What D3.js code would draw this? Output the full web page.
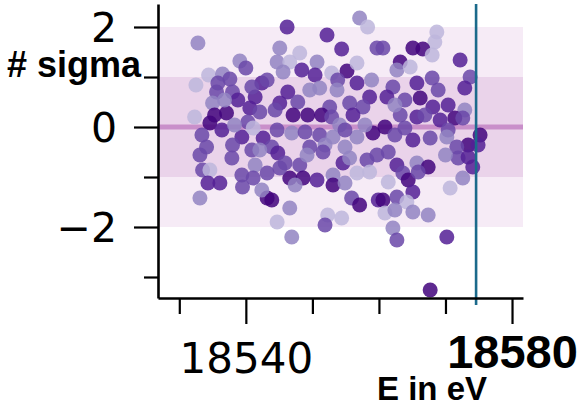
<!DOCTYPE html>
<html><head><meta charset="utf-8">
<script src="https://cdn.jsdelivr.net/npm/d3@7"></script>
<style>body{margin:0;background:#fff}svg{display:block}</style>
</head><body>
<svg id="c" width="581" height="407"></svg>
<script>
const energy = [18532.8,18539.1,18540.0,18534.4,18536.5,18537.6,18535.8,18532.5,18542.4,18535.6,18538.0,18541.4,18538.8,18535.0,18540.6,18542.1,18535.3,18537.1,18532.3,18534.6,18540.3,18536.4,18533.4,18539.4,18542.6,18534.1,18538.0,18533.1,18537.9,18533.5,18534.6,18541.4,18539.4,18541.1,18534.3,18536.1,18539.5,18533.1,18543.2,18543.2,18540.9,18541.1,18540.9,18543.2,18542.4,
18546.2,18557.1,18558.3,18552.2,18554.4,18559.7,18545.1,18548.1,18544.7,18546.6,18550.7,18548.4,18550.4,18545.6,18555.2,18552.9,18556.7,18553.8,18556.7,18551.1,18558.9,18546.3,18553.7,18547.8,18558.6,18545.1,18552.6,18555.6,18557.6,18544.4,18547.1,18549.3,18551.4,18552.9,18556.1,18554.1,18544.7,18546.9,18548.9,18551.1,18553.1,18556.7,18559.1,18543.9,18549.6,18551.9,18554.9,
18544.8,18545.9,18548.1,18549.2,18551.6,18554.6,18555.6,18558.2,18559.7,18546.6,18548.6,18550.7,18553.1,18547.4,18553.1,18554.9,18556.7,18558.6,18543.9,18546.6,18555.9,18557.1,18559.9,18544.7,18552.3,18554.4,18551.9,18546.9,18545.1,
18568.7,18568.4,18565.1,18566.6,18560.6,18563.2,18562.7,18564.7,18572.2,18568.0,18573.7,18568.0,18565.7,18562.1,18572.9,18568.9,18561.2,18566.2,18563.9,18568.1,18570.4,18572.9,18563.2,18565.7,18566.9,18569.2,18571.4,18572.6,18560.9,18563.9,18570.4,18562.4,18565.1,18567.7,18570.2,18573.4,18575.2,18574.9,18571.7,
18561.4,18571.9,18573.4,18574.1,18562.7,18565.7,18567.4,18563.6,18564.4,18565.9,18561.4,18572.6,18565.1,18560.6,18562.7,18564.2,18570.7,18560.9,18562.4,18565.1,18567.4,18562.1,18562.7,18570.2,18567.7,
18538.3,18549.6,18554.9,18557.9,18562.4,18570.0,18536.8,18542.1];
const sigma = [1.68,1.32,1.18,1.04,1.06,0.96,0.88,0.84,0.88,0.70,0.70,0.60,0.54,0.48,0.38,0.30,0.24,0.28,0.20,0.08,0.10,-0.06,-0.16,-0.20,-0.22,-0.40,-0.36,-0.56,-0.62,-0.86,-0.86,-0.76,-0.96,-1.02,-1.12,-1.12,-1.20,-1.42,-1.42,0.94,0.80,-0.02,-0.46,-0.92,-1.26,
2.00,2.18,2.00,1.84,1.56,1.58,1.58,1.48,1.30,1.30,1.30,1.14,1.04,1.10,1.12,1.08,1.28,0.94,0.88,0.78,0.94,0.70,0.74,0.50,0.60,0.48,0.40,0.48,0.40,0.34,0.24,0.24,0.24,0.20,0.24,0.04,-0.06,-0.12,-0.10,-0.16,-0.20,-0.20,-0.12,-0.40,-0.40,-0.36,-0.40,
-0.52,-0.72,-0.76,-0.56,-0.50,-0.72,-0.62,-0.66,-0.56,-1.02,-1.02,-1.06,-0.96,-1.16,-1.16,-1.12,-0.92,-0.90,-1.46,-1.62,-1.42,-1.56,-1.46,-1.90,-1.76,-1.82,-1.96,-2.20,-0.82,
1.90,1.70,1.58,1.56,1.58,1.30,1.14,1.20,1.34,1.44,1.00,0.98,0.88,0.80,0.78,0.74,0.60,0.58,0.54,0.40,0.44,0.34,0.24,0.20,0.24,0.14,0.18,0.18,0.00,-0.02,-0.06,-0.16,-0.26,-0.22,-0.20,-0.36,-0.16,-0.36,-0.40,
-0.50,-0.62,-0.60,-0.80,-0.76,-0.72,-0.80,-0.92,-1.06,-0.90,-1.10,-1.02,-1.30,-1.46,-1.40,-1.50,-1.22,-1.72,-1.66,-1.70,-1.76,-2.02,-2.26,-2.20,-3.26,
0.04,0.74,-0.06,0.04,0.44,-0.56,0.54,-0.46];
const shade = [1,1,2,0,1,2,2,0,3,2,2,3,3,1,3,2,4,4,0,4,2,3,2,3,3,2,2,2,2,2,0,1,2,2,3,3,2,1,4,2,2,0,2,2,1,
3,1,0,3,3,2,1,0,1,0,1,3,3,1,4,0,0,2,3,1,1,3,1,2,3,3,2,2,2,2,4,4,4,2,3,1,2,1,2,2,1,1,4,2,2,1,1,
3,2,2,1,2,3,1,2,2,4,4,3,1,1,4,1,0,0,4,1,2,4,3,0,0,0,2,1,2,
0,0,4,4,2,4,1,0,3,0,2,2,3,2,3,2,3,4,2,3,3,1,2,3,2,3,4,2,4,2,2,2,3,2,1,4,4,3,2,
2,2,3,3,3,1,4,2,4,2,0,1,3,4,2,0,0,0,1,1,1,1,2,3,4,
1,1,2,1,1,1,1,1];
const endpointE = 18574.6;
const bandLevels = [2, 1];
const yMajor = [-2, 0, 2], yMinor = [-3, -1, 1];
const xMajor = [18540, 18580], xMinor = [18530, 18550, 18560, 18570];
const yLabel = "# sigma", xLabel = "E in eV";

const svg = d3.select("#c");
const x = d3.scaleLinear().domain([18526.8, 18581.65]).range([158, 523]);
const y = d3.scaleLinear().domain([-3.42, 2.46]).range([298, 4]);
const colors = ["#bdb6dc", "#9284c2", "#6a48a8", "#532095", "#42047c"];

// bands
const bandCol = {2: "#f6ebf6", 1: "#ead3ea"};
bandLevels.forEach(b => {
  svg.append("rect").attr("x", x.range()[0]).attr("width", x.range()[1] - x.range()[0])
    .attr("y", y(b)).attr("height", y(-b) - y(b)).attr("fill", bandCol[b]);
});
svg.append("line").attr("x1", x.range()[0]).attr("x2", x.range()[1])
  .attr("y1", y(0)).attr("y2", y(0)).attr("stroke", "#c98fca").attr("stroke-width", 5);

// points
svg.append("g").selectAll("circle").data(energy.map((e, i) => ({e, s: sigma[i], c: shade[i]})))
  .join("circle").attr("cx", d => x(d.e)).attr("cy", d => y(d.s)).attr("r", 7.5)
  .attr("fill", d => colors[d.c]).attr("fill-opacity", 0.85);

// vertical endpoint line
svg.append("line").attr("x1", x(endpointE)).attr("x2", x(endpointE))
  .attr("y1", y.range()[1]).attr("y2", y.range()[0] + 7)
  .attr("stroke", "#1b6a8b").attr("stroke-width", 2.6);

// axes
const gy = svg.append("g").attr("transform", "translate(158,0)")
  .call(d3.axisLeft(y).tickValues(yMajor).tickSize(24).tickSizeOuter(0).tickPadding(17)
    .tickFormat(d => d < 0 ? "\u2212" + Math.abs(d) : d));
svg.append("g").attr("transform", "translate(158,0)")
  .call(d3.axisLeft(y).tickValues(yMinor).tickSize(14).tickFormat("")).call(g => g.select(".domain").remove());
const gx = svg.append("g").attr("transform", "translate(0,298)")
  .call(d3.axisBottom(x).tickValues(xMajor).tickSize(26).tickSizeOuter(0).tickFormat(d3.format("d")));
svg.append("g").attr("transform", "translate(0,298)")
  .call(d3.axisBottom(x).tickValues(xMinor).tickSize(16).tickFormat("")).call(g => g.select(".domain").remove());

svg.selectAll(".domain").attr("stroke", "#000").attr("stroke-width", 2.6);
svg.selectAll(".tick line").attr("stroke", "#000").attr("stroke-width", 2.2);
gy.selectAll("text").attr("font-family", "DejaVu Sans").attr("font-size", 41).attr("fill", "#000").attr("dy", "0.36em");
gx.selectAll("text").attr("fill", "#000").attr("dy", 0)
  .attr("font-family", d => d === 18580 ? "Liberation Sans" : "DejaVu Sans")
  .attr("font-weight", d => d === 18580 ? "bold" : "normal")
  .attr("font-size", d => d === 18580 ? 47 : 42)
  .attr("y", d => d === 18580 ? 70 : 75);

svg.append("text").attr("x", 7).attr("y", 77).attr("font-family", "Liberation Sans").attr("font-weight", "bold")
  .attr("font-size", 36).attr("fill", "#000").text(yLabel);
svg.append("text").attr("x", 377).attr("y", 400).attr("font-family", "Liberation Sans").attr("font-weight", "bold")
  .attr("font-size", 33).attr("fill", "#000").text(xLabel);
</script>
</body></html>
